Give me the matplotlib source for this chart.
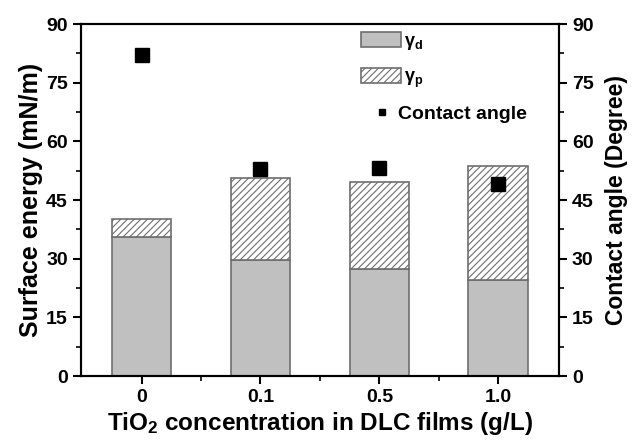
import matplotlib
matplotlib.use("Agg")
import matplotlib.pyplot as plt
from matplotlib.ticker import MultipleLocator, FixedLocator
import numpy as np

plt.rcParams['font.family'] = ['Liberation Sans', 'DejaVu Sans']
plt.rcParams['font.weight'] = 'bold'
plt.rcParams['mathtext.default'] = 'regular'
plt.rcParams['hatch.color'] = '#7a7a7a'
plt.rcParams['hatch.linewidth'] = 0.8

# data
categories = ['0', '0.1', '0.5', '1.0']
gamma_d = [35.6, 29.7, 27.3, 24.5]
gamma_p = [4.5, 20.9, 22.4, 29.2]
contact_angle = [82.2, 52.9, 53.3, 49.0]

x = np.arange(len(categories))

fig = plt.figure(figsize=(6.35, 4.42), dpi=100)
ax = fig.add_axes([0.1276, 0.1493, 0.7524, 0.7964])

b1 = ax.bar(x, gamma_d, width=0.5, color='#c0c0c0', edgecolor='#6e6e6e', linewidth=1.2, label=r'$\gamma_d$')
b2 = ax.bar(x, gamma_p, width=0.5, bottom=gamma_d, color='white', edgecolor='#6e6e6e',
            linewidth=1.2, hatch='/////', label=r'$\gamma_p$')

ax.set_xlim(-0.51, 3.51)
ax.set_ylim(0, 90)
ax.set_xticks(x)
ax.set_xticklabels(categories)
ax.xaxis.set_minor_locator(FixedLocator([0.5, 1.5, 2.5]))
ax.yaxis.set_major_locator(MultipleLocator(15))
ax.yaxis.set_minor_locator(MultipleLocator(7.5))

ax2 = ax.twinx()
pts, = ax2.plot(x, contact_angle, 's', color='black', markersize=10, label='Contact angle')
ax2.set_ylim(0, 90)
ax2.yaxis.set_major_locator(MultipleLocator(15))
ax2.yaxis.set_minor_locator(MultipleLocator(7.5))

for a in (ax, ax2):
    for s in a.spines.values():
        s.set_linewidth(1.5)
    a.tick_params(which='major', length=6, width=1.5, labelsize=14, direction='out')
    a.tick_params(which='minor', length=3.5, width=1.2, direction='out')
ax.tick_params(axis='x', which='both', top=False)

ax.set_xlabel('TiO$_2$ concentration in DLC films (g/L)', fontsize=17.5, fontweight='bold', labelpad=3)
ax.set_ylabel('Surface energy (mN/m)', fontsize=18, fontweight='bold', labelpad=2)
ax2.set_ylabel('Contact angle (Degree)', fontsize=16.5, fontweight='bold', labelpad=8)

leg1 = ax2.legend([b1, b2], [r'$\gamma_d$', r'$\gamma_p$'], loc='upper left',
                  bbox_to_anchor=(0.586, 0.976), frameon=False, fontsize=13,
                  handlelength=2.2, handleheight=0.9, labelspacing=0.9,
                  handletextpad=0.2, borderpad=0, borderaxespad=0)
ax2.add_artist(leg1)
ax2.legend([pts], ['Contact angle'], loc='upper left', bbox_to_anchor=(0.609, 0.770),
           frameon=False, fontsize=14, markerscale=0.45, handlelength=1.0,
           handletextpad=0.35, borderpad=0, borderaxespad=0)

fig.savefig('out.png', dpi=100)
